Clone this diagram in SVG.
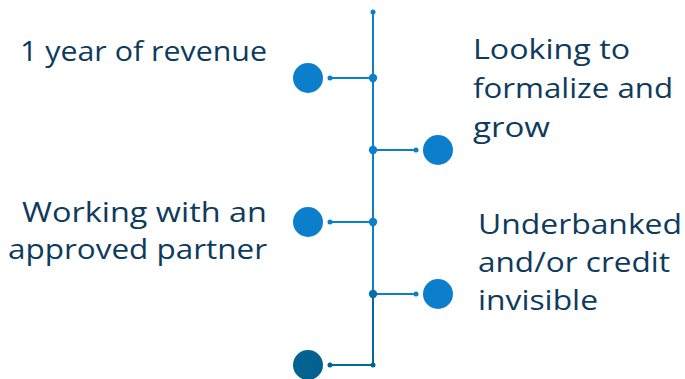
<svg xmlns="http://www.w3.org/2000/svg" width="685" height="379" viewBox="0 0 685 379">
<style>
.t{font-family:"Open Sans","Liberation Sans",sans-serif;font-size:28px;fill:#0e3b5d}
.l{stroke:#0b7fcb;stroke-width:2;fill:none}
.ld{stroke:#05679a;stroke-width:2;fill:none}
.b{fill:#0b7fcb}
.d{fill:#03628f}
</style>
<rect width="685" height="379" fill="#fff"/>
<g id="connectors">
<line class="l" x1="373" y1="12" x2="373" y2="294"/>
<line class="ld" x1="373" y1="294" x2="373" y2="365"/>
<circle class="b" cx="373" cy="12" r="2.5"/>
<line class="l" x1="330" y1="78" x2="373" y2="78"/>
<circle class="b" cx="330" cy="78" r="2.5"/>
<circle class="b" cx="373" cy="78" r="4.2"/>
<line class="l" x1="373" y1="150" x2="416" y2="150"/>
<circle class="b" cx="373" cy="150" r="4.2"/>
<circle class="b" cx="416" cy="150" r="2.5"/>
<line class="l" x1="330" y1="222" x2="373" y2="222"/>
<circle class="b" cx="330" cy="222" r="2.5"/>
<circle class="b" cx="373" cy="222" r="4.2"/>
<line class="l" x1="373" y1="294" x2="416" y2="294"/>
<circle class="b" cx="416" cy="294" r="2.5"/>
<circle fill="#0a6ea8" cx="373" cy="294" r="4.2"/>
<line class="ld" x1="330" y1="365" x2="373" y2="365"/>
<circle class="d" cx="330" cy="365" r="2.5"/>
<circle class="d" cx="373" cy="365" r="2.5"/>
</g>
<g id="node1">
<circle class="b" cx="308" cy="78" r="15"/>
<text class="t" x="267" y="61" text-anchor="end" textLength="247" lengthAdjust="spacingAndGlyphs">1 year of revenue</text>
</g>
<g id="node2">
<circle class="b" cx="438" cy="150" r="15"/>
<text class="t" x="473" y="59" textLength="157" lengthAdjust="spacingAndGlyphs">Looking to</text>
<text class="t" x="473" y="98" textLength="200" lengthAdjust="spacingAndGlyphs">formalize and</text>
<text class="t" x="473" y="137" textLength="77" lengthAdjust="spacingAndGlyphs">grow</text>
</g>
<g id="node3">
<circle class="b" cx="308" cy="222" r="15"/>
<text class="t" x="267" y="222" text-anchor="end" textLength="245" lengthAdjust="spacingAndGlyphs">Working with an</text>
<text class="t" x="267" y="259" text-anchor="end" textLength="259" lengthAdjust="spacingAndGlyphs">approved partner</text>
</g>
<g id="node4">
<circle class="b" cx="438" cy="294" r="15"/>
<text class="t" x="478" y="234" textLength="204" lengthAdjust="spacingAndGlyphs">Underbanked</text>
<text class="t" x="478" y="272" textLength="192" lengthAdjust="spacingAndGlyphs">and/or credit</text>
<text class="t" x="478" y="310" textLength="120" lengthAdjust="spacingAndGlyphs">invisible</text>
</g>
<g id="node5">
<circle class="d" cx="308" cy="365" r="15"/>
</g>
</svg>
